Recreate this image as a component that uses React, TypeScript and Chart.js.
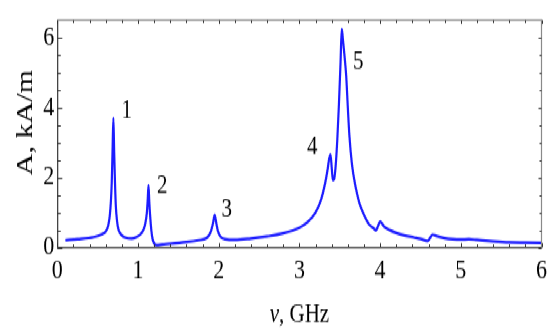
import { useEffect, useRef } from 'react';
import { Chart, registerables } from 'chart.js';

Chart.register(...registerables);

// Frequency (GHz) and amplitude (kA/m)
const freqGHz = [
  0.1, 0.25, 0.45, 0.55, 0.6, 0.63, 0.65, 0.665, 0.675, 0.685, 0.695, 0.705, 0.715, 0.725, 0.74, 0.76,
  0.8, 0.85, 0.92, 0.98, 1.03, 1.07, 1.09, 1.11, 1.12, 1.13, 1.14, 1.15, 1.165, 1.18, 1.2, 1.23,
  1.3, 1.4, 1.6, 1.75, 1.85, 1.9, 1.93, 1.95, 1.97, 1.99, 2.02, 2.08, 2.2, 2.4, 2.6, 2.8,
  3.0, 3.1, 3.2, 3.27, 3.32, 3.35, 3.37, 3.385, 3.4, 3.415, 3.43, 3.45, 3.47, 3.49, 3.51, 3.525,
  3.54, 3.56, 3.58, 3.6, 3.62, 3.65, 3.7, 3.74, 3.78, 3.86, 3.92, 3.95, 3.975, 4.0, 4.05, 4.12,
  4.2, 4.3, 4.42, 4.5, 4.59, 4.62, 4.65, 4.7, 4.8, 4.9, 5.0, 5.1, 5.2, 5.4, 5.6, 5.8, 6.0,
];
const amplitude = [
  0.21, 0.24, 0.3, 0.38, 0.46, 0.62, 0.9, 1.35, 1.88, 2.8, 3.7, 2.7, 1.85, 1.2, 0.76, 0.5,
  0.35, 0.28, 0.26, 0.3, 0.38, 0.52, 0.68, 1.0, 1.35, 1.78, 1.3, 0.92, 0.5, 0.25, 0.12, 0.07,
  0.09, 0.11, 0.16, 0.21, 0.27, 0.44, 0.7, 0.93, 0.7, 0.47, 0.32, 0.24, 0.22, 0.26, 0.32, 0.41,
  0.57, 0.72, 1.0, 1.38, 1.85, 2.24, 2.55, 2.66, 2.3, 1.92, 1.95, 2.35, 3.1, 4.1, 5.3, 6.24,
  5.92, 5.45, 4.9, 4.0, 3.18, 2.4, 1.69, 1.3, 1.04, 0.67, 0.55, 0.49, 0.62, 0.74, 0.6, 0.5,
  0.42, 0.35, 0.29, 0.25, 0.19, 0.28, 0.37, 0.33, 0.27, 0.24, 0.23, 0.24, 0.22, 0.18, 0.15, 0.14, 0.13,
];

const xTickValues = [0, 1, 2, 3, 4, 5, 6];
const yTickValues = [0, 2, 4, 6];

const peakNames = ['1', '2', '3', '4', '5'];
const peakLabelX = [0.86, 1.3, 2.1, 3.16, 3.73];
const peakLabelY = [3.9, 1.74, 1.07, 2.87, 5.31];

const X_TITLE_SYMBOL = 'ν';
const X_TITLE_REST = ', GHz';
const Y_TITLE = 'A, kA/m';

const SERIF = '"Liberation Serif", "Times New Roman", serif';
const NATIVE_H = 265;
const STRETCH = 332 / NATIVE_H;

export default function App() {
  const ref = useRef<HTMLCanvasElement | null>(null);

  useEffect(() => {
    document.body.style.margin = '0';
    document.body.style.overflow = 'hidden';
    const canvas = ref.current;
    if (!canvas) return;

    const decor = {
      id: 'decor',
      afterDraw(chart: any) {
        const { ctx, chartArea } = chart;
        const xs = chart.scales.x;
        const ys = chart.scales.y;
        const { left, right, top, bottom } = chartArea;
        ctx.save();
        // top & right frame
        ctx.strokeStyle = '#8a8a8a';
        ctx.lineWidth = 1.2;
        ctx.beginPath();
        ctx.moveTo(left, top);
        ctx.lineTo(right, top);
        ctx.lineTo(right, bottom);
        ctx.stroke();
        // ticks
        ctx.strokeStyle = '#333';
        ctx.lineWidth = 1;
        ctx.beginPath();
        for (let k = 0; k <= 30; k++) {
          const v = k * 0.2;
          const px = Math.round(xs.getPixelForValue(v)) + 0.5;
          const major = k % 5 === 0;
          const lb = major ? 3.5 : 2.5;
          const lt = major ? 3 : 2.2;
          ctx.moveTo(px, bottom);
          ctx.lineTo(px, bottom - lb);
          ctx.moveTo(px, top);
          ctx.lineTo(px, top + lt);
        }
        for (let k = 0; k <= 12; k++) {
          const v = k * 0.5;
          const py = Math.round(ys.getPixelForValue(v)) + 0.5;
          const major = k % 4 === 0;
          const ll = major ? 5 : 3.5;
          const lr = major ? 3 : 2;
          ctx.moveTo(left, py);
          ctx.lineTo(left + ll, py);
          ctx.moveTo(right, py);
          ctx.lineTo(right - lr, py);
        }
        ctx.stroke();
        // peak labels
        ctx.fillStyle = '#000';
        ctx.font = `21px ${SERIF}`;
        ctx.textAlign = 'center';
        ctx.textBaseline = 'middle';
        peakNames.forEach((n, i) => {
          ctx.fillText(n, xs.getPixelForValue(peakLabelX[i]), ys.getPixelForValue(peakLabelY[i]));
        });
        // x title with italic symbol
        const fItal = `italic 21px ${SERIF}`;
        const fReg = `21px ${SERIF}`;
        ctx.font = fItal;
        const w1 = ctx.measureText(X_TITLE_SYMBOL).width;
        ctx.font = fReg;
        const w2 = ctx.measureText(X_TITLE_REST).width;
        const cx = (left + right) / 2;
        const ty = bottom + 53.5;
        ctx.textAlign = 'left';
        ctx.font = fItal;
        ctx.fillText(X_TITLE_SYMBOL, cx - (w1 + w2) / 2, ty);
        ctx.font = fReg;
        ctx.fillText(X_TITLE_REST, cx - (w1 + w2) / 2 + w1, ty);
        // y title
        ctx.textAlign = 'center';
        ctx.translate(left - 32, (top + bottom) / 2 - 9);
        ctx.rotate(-Math.PI / 2);
        ctx.font = `24px ${SERIF}`;
        ctx.fillText(Y_TITLE, 0, 0);
        ctx.restore();
      },
    };

    const chart = new Chart(canvas, {
      type: 'line',
      data: {
        datasets: [
          {
            data: freqGHz.map((x, i) => ({ x, y: amplitude[i] })),
            borderColor: '#1c1cff',
            borderWidth: 2.2,
            pointRadius: 0,
            fill: false,
            cubicInterpolationMode: 'monotone',
          },
        ],
      },
      options: {
        animation: false,
        responsive: true,
        maintainAspectRatio: false,
        layout: { padding: { top: 11.2, right: 7.7, left: 0, bottom: 0 } },
        plugins: { legend: { display: false }, tooltip: { enabled: false } },
        scales: {
          x: {
            type: 'linear',
            min: 0,
            max: 6,
            afterBuildTicks: (s: any) => {
              s.ticks = xTickValues.map((v) => ({ value: v }));
            },
            afterFit: (s: any) => {
              s.height = NATIVE_H - 197.6;
            },
            grid: { display: false, drawTicks: false },
            border: { display: true, color: '#444', width: 1.3 },
            ticks: {
              color: '#000',
              padding: 5,
              maxRotation: 0,
              font: { family: SERIF, size: 22 },
            },
          },
          y: {
            type: 'linear',
            min: 0,
            max: 6.49,
            afterBuildTicks: (s: any) => {
              s.ticks = yTickValues.map((v) => ({ value: v }));
            },
            afterFit: (s: any) => {
              s.width = 57.3;
            },
            grid: { display: false, drawTicks: false },
            border: { display: true, color: '#444', width: 1.3 },
            ticks: {
              color: '#000',
              padding: 3,
              font: { family: SERIF, size: 22 },
            },
          },
        },
      },
      plugins: [decor],
    } as any);

    return () => chart.destroy();
  }, []);

  return (
    <div
      style={{
        position: 'absolute',
        left: 0,
        top: 0,
        width: 552,
        height: NATIVE_H,
        transform: `scaleY(${STRETCH})`,
        transformOrigin: '0 0',
        background: '#fff',
      }}
    >
      <canvas ref={ref} />
    </div>
  );
}
